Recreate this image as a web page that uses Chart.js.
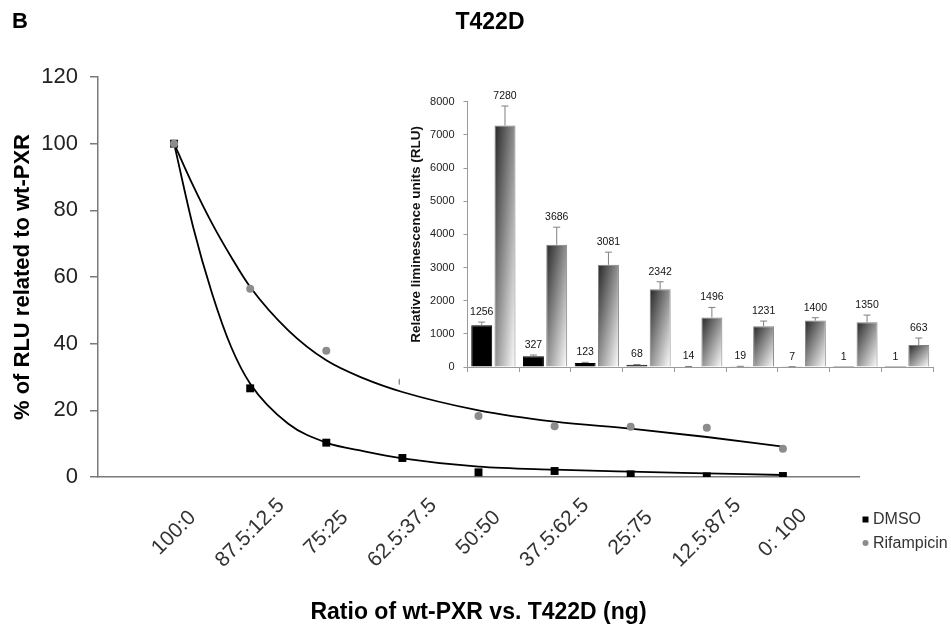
<!DOCTYPE html>
<html>
<head>
<meta charset="utf-8">
<script src="https://cdn.jsdelivr.net/npm/chart.js@4.4.1/dist/chart.umd.min.js"></script>
<style>
  body { margin: 0; background: #fff; }
  #wrap { position: relative; width: 951px; height: 627px; }
  #mainChart { position: absolute; left: 0; top: 0; }
  #insetChart { position: absolute; left: 400px; top: 80px; background: #fff; }
</style>
</head>
<body>
<div id="wrap">
  <canvas id="mainChart" width="951" height="627"></canvas>
  <canvas id="insetChart" width="545" height="307"></canvas>
</div>
<script>
// ---------------- data ----------------
const ratioLabels = ['100:0', '87.5:12.5', '75:25', '62.5:37.5', '50:50', '37.5:62.5', '25:75', '12.5:87.5', '0: 100'];
const seriesNames = ['DMSO', 'Rifampicin'];

// % of RLU related to wt-PXR (main plot)
const dmsoPct = [100, 26.6, 10.3, 5.7, 1.4, 1.8, 0.8, 0.2, 0.3];
const rifPct  = [100, 56.5, 37.9, 28.6, 18.3, 15.2, 15.1, 14.8, 8.5];

// trend curves at these category positions
const trendX    = [1, 1.25, 1.5, 1.75, 2, 2.5, 3, 3.5, 4, 5, 6, 7, 8, 9];
const dmsoTrend = [100, 75, 55, 39, 28, 16, 10.3, 7.7, 5.6, 3.1, 2.2, 1.6, 1.1, 0.6];
const rifTrend  = [100, 87.4, 76, 66, 57, 44, 35, 29.5, 25.5, 20, 16.6, 14.5, 12, 9.1];

// inset: relative luminescence units + top of error bar
const dmsoRlu    = [1256, 327, 123, 68, 14, 19, 7, 1, 1];
const dmsoErrTop = [1355, 361, 140, 75, 16, 21, 9, 1, 1];
const rifRlu     = [7280, 3686, 3081, 2342, 1496, 1231, 1400, 1350, 663];
const rifErrTop  = [7869, 4216, 3463, 2570, 1797, 1385, 1486, 1566, 873];

Chart.defaults.font.family = 'Arial, "Liberation Sans", sans-serif';
Chart.defaults.animation = false;

const pts = arr => arr.map((v, i) => ({ x: i + 1, y: v }));
const trend = arr => arr.map((v, i) => ({ x: trendX[i], y: v }));

// ---------------- main plot ----------------
const mainText = {
  id: 'mainText',
  afterDraw(chart) {
    const ctx = chart.ctx;
    const xs = chart.scales.x;
    ctx.save();
    ctx.fillStyle = '#000';
    ctx.textBaseline = 'middle';
    ctx.textAlign = 'left';
    ctx.font = 'bold 22px Arial';
    ctx.fillText('B', 12, 22);
    ctx.textAlign = 'center';
    ctx.font = 'bold 23px Arial';
    ctx.fillText('T422D', 490, 23);

    // rotated category labels, centred under each position
    ctx.font = '21px Arial';
    ctx.fillStyle = '#333';
    ratioLabels.forEach((lab, i) => {
      ctx.save();
      ctx.translate(xs.getPixelForValue(i + 1), 533);
      ctx.rotate(-Math.PI / 4);
      ctx.fillText(lab, 0, 0);
      ctx.restore();
    });

    // legend
    ctx.font = '16px Arial';
    ctx.textAlign = 'left';
    ctx.fillStyle = '#000';
    ctx.fillRect(862.5, 516.5, 6, 6);
    ctx.fillStyle = '#8c8c8c';
    ctx.beginPath();
    ctx.arc(865.5, 543, 3, 0, Math.PI * 2);
    ctx.fill();
    ctx.fillStyle = '#333';
    ctx.fillText(seriesNames[0], 873, 520);
    ctx.fillText(seriesNames[1], 873, 544);
    ctx.restore();
  }
};

new Chart(document.getElementById('mainChart'), {
  type: 'scatter',
  data: {
    datasets: [
      { label: seriesNames[1], data: pts(rifPct), pointStyle: 'circle', pointRadius: 4,
        backgroundColor: '#8c8c8c', borderColor: '#8c8c8c', borderWidth: 0 },
      { label: seriesNames[0], data: pts(dmsoPct), pointStyle: 'rect', pointRadius: 5.6,
        backgroundColor: '#000', borderColor: '#000', borderWidth: 0 },
      { type: 'line', data: trend(dmsoTrend), borderColor: '#000', borderWidth: 1.8,
        pointRadius: 0, cubicInterpolationMode: 'monotone', fill: false },
      { type: 'line', data: trend(rifTrend), borderColor: '#000', borderWidth: 1.8,
        pointRadius: 0, cubicInterpolationMode: 'monotone', fill: false }
    ]
  },
  options: {
    responsive: false,
    animation: false,
    layout: { padding: { left: 0, top: 77, right: 92, bottom: 0 } },
    plugins: { legend: { display: false }, tooltip: { enabled: false } },
    scales: {
      x: {
        type: 'linear', min: 0, max: 10,
        ticks: { display: false },
        grid: { display: false },
        border: { color: '#7a7a7a', width: 1.5 },
        title: { display: true, text: 'Ratio of wt-PXR vs. T422D (ng)', color: '#000',
                 font: { size: 23, weight: 'bold' }, padding: { top: 0, bottom: 1 } },
        afterFit(s) { s.height = 150; }
      },
      y: {
        min: 0, max: 120,
        ticks: { stepSize: 20, font: { size: 22 }, color: '#222', padding: 12 },
        grid: { display: true, drawOnChartArea: false, tickLength: 8, color: '#7a7a7a', lineWidth: 1.5 },
        border: { color: '#7a7a7a', width: 1.5 },
        title: { display: true, text: '% of RLU related to wt-PXR', color: '#000',
                 font: { size: 22, weight: 'bold' }, padding: { top: 10, bottom: 0 } },
        afterFit(s) { s.width = 98; }
      }
    }
  },
  plugins: [mainText]
});

// ---------------- inset bars ----------------
const insetDeco = {
  id: 'insetDeco',
  beforeDatasetsDraw(chart) {
    // diagonal grey-to-white fill on the rifampicin bars
    const ctx = chart.ctx;
    chart.getDatasetMeta(1).data.forEach(bar => {
      const w = bar.width, h = bar.base - bar.y;
      const left = bar.x - w / 2;
      const k = h > 0 ? 2 * w * h / (h * h + w * w) : 0;
      const g = ctx.createLinearGradient(left, bar.y, left + h * k + 0.01, bar.y + w * k);
      g.addColorStop(0, '#262626');
      g.addColorStop(1, '#ffffff');
      bar.options.backgroundColor = g;
    });
  },
  afterDatasetsDraw(chart) {
    const ctx = chart.ctx;
    const ys = chart.scales.y;
    const tops = [dmsoErrTop, rifErrTop];
    ctx.save();
    tops.forEach((errTop, d) => {
      const vals = chart.data.datasets[d].data;
      chart.getDatasetMeta(d).data.forEach((bar, i) => {
        const yTop = ys.getPixelForValue(errTop[i]);
        if (errTop[i] > vals[i]) {
          ctx.strokeStyle = '#7f7f7f';
          ctx.lineWidth = 1;
          ctx.beginPath();
          ctx.moveTo(bar.x, bar.y);
          ctx.lineTo(bar.x, yTop);
          ctx.moveTo(bar.x - 3.5, yTop);
          ctx.lineTo(bar.x + 3.5, yTop);
          ctx.stroke();
        }
        ctx.fillStyle = '#111';
        ctx.font = '10.5px Arial';
        ctx.textAlign = 'center';
        ctx.textBaseline = 'middle';
        ctx.fillText(String(vals[i]), bar.x, yTop - 10);
      });
    });
    ctx.restore();
  }
};

new Chart(document.getElementById('insetChart'), {
  type: 'bar',
  data: {
    labels: ratioLabels,
    datasets: [
      { label: seriesNames[0], data: dmsoRlu, backgroundColor: '#000', borderColor: '#000', borderWidth: 1 },
      { label: seriesNames[1], data: rifRlu, backgroundColor: () => '#aaa', borderColor: '#808080', borderWidth: 1 }
    ]
  },
  options: {
    responsive: false,
    animation: false,
    datasets: { bar: { categoryPercentage: 0.9, barPercentage: 0.9 } },
    layout: { padding: { left: 0, top: 21.7, right: 12, bottom: 0 } },
    plugins: { legend: { display: false }, tooltip: { enabled: false } },
    scales: {
      x: {
        ticks: { display: false },
        grid: { display: true, offset: true, drawOnChartArea: false, tickLength: 5, color: '#9a9a9a' },
        border: { color: '#9a9a9a' },
        afterFit(s) { s.height = 20; }
      },
      y: {
        min: 0, max: 8000,
        ticks: { stepSize: 1000, font: { size: 11 }, color: '#222', padding: 9, callback: v => String(v) },
        grid: { display: true, drawOnChartArea: false, tickLength: 4, color: '#9a9a9a' },
        border: { color: '#9a9a9a' },
        title: { display: true, text: 'Relative liminescence units (RLU)', color: '#111',
                 font: { size: 13.5, weight: 'bold' }, padding: { top: 8.5, bottom: 0 } },
        afterFit(s) { s.width = 67.5; }
      }
    }
  },
  plugins: [insetDeco]
});
</script>
</body>
</html>
